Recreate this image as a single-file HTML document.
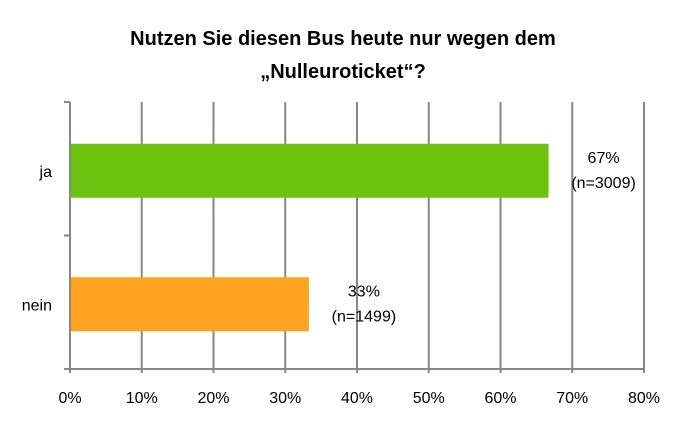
<!DOCTYPE html>
<html><head><meta charset="utf-8"><style>
body{margin:0;background:#fff;}
svg text{font-family:"Liberation Sans",sans-serif;}
</style></head><body>
<svg width="686" height="422">
<g id="chart"></g>
</svg>
<script>
const categories=["ja","nein"];
const values=[66.7,33.3];
const labels1=["67%","33%"];
const labels2=["(n=3009)","(n=1499)"];
const ticks=[0,10,20,30,40,50,60,70,80];
const colors=["#6cc410","#ffa321"];
const ns="http://www.w3.org/2000/svg";
const g=document.getElementById('chart');
const x0=70,x1=644,yT=102,yB=369,xMax=80;
const xs=v=>x0+(v/xMax)*(x1-x0);
const band=(yB-yT)/categories.length;
function el(t,a,txt){const e=document.createElementNS(ns,t);for(const k in a)e.setAttribute(k,a[k]);if(txt!=null)e.textContent=txt;g.appendChild(e);return e;}
const t1=el('text',{x:343,y:45,'text-anchor':'middle','font-size':20,'font-weight':'bold',fill:'#000'},'Nutzen Sie diesen Bus heute nur wegen dem');

const t2=el('text',{x:343,y:78,'text-anchor':'middle','font-size':20,'font-weight':'bold',fill:'#000'},'„Nulleuroticket“?');

ticks.forEach(t=>{
 const x=xs(t);
 const l=el('line',{x1:x,x2:x,y1:yT,y2:yB+4,stroke:'#878787','stroke-width':2});
 
 const tx=el('text',{x:x,y:403,'text-anchor':'middle','font-size':16,fill:'#000'},t+'%');
 
});
const ax=el('line',{x1:x0-6,x2:x1,y1:yB,y2:yB,stroke:'#878787','stroke-width':2});

for(let i=0;i<=categories.length;i++){
 const y=yT+i*band;
 const tk=el('line',{x1:x0-6,x2:x0,y1:y,y2:y,stroke:'#878787','stroke-width':2});
 
}
categories.forEach((c,i)=>{
 const yc=yT+band*(i+0.5);
 const h=54;
 const r=el('rect',{x:x0+1,y:yc-h/2+2,width:xs(values[i])-x0-1,height:h,fill:colors[i]});
 
 const cl=el('text',{x:52,y:yc+8,'text-anchor':'end','font-size':16,fill:'#000'},c);
 
 const lx=xs(values[i])+55;
 const a=el('text',{x:lx,y:yc-6,'text-anchor':'middle','font-size':16,fill:'#000'},labels1[i]);
 
 const b=el('text',{x:lx,y:yc+19,'text-anchor':'middle','font-size':16,fill:'#000'},labels2[i]);
 
});
</script>
</body></html>
